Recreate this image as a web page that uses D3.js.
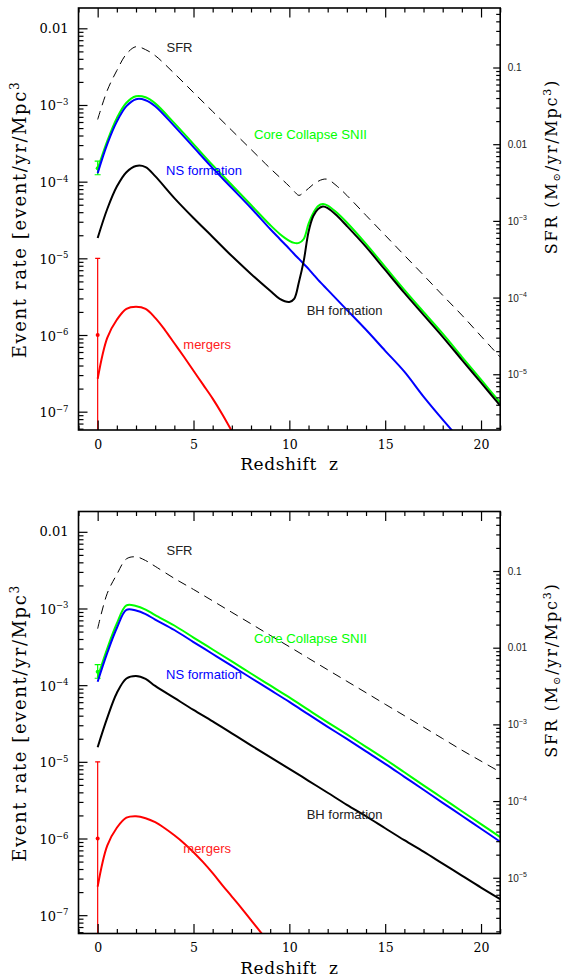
<!DOCTYPE html>
<html>
<head>
<meta charset="utf-8">
<script src="https://cdn.jsdelivr.net/npm/d3@7"></script>
<style>
  body { margin: 0; background: #fff; }
  svg { display: block; }
</style>
</head>
<body>
<svg id="chart" width="563" height="977"></svg>
<script>
// redshift grids
var zTop = [0, 0.5, 1, 1.5, 2, 2.5, 3, 4, 5, 6, 7, 8, 9, 9.5, 10, 10.25, 10.5, 10.75, 11, 11.25, 11.5, 11.75, 12, 12.5, 13, 14, 15, 16, 17, 18, 19, 20, 21];
var zBot = [0, 0.5, 1, 1.5, 2, 2.5, 3, 4, 5, 6, 7, 8, 9, 10, 11, 12, 13, 14, 15, 16, 17, 18, 19, 20, 21];

// top panel (with pop III bump)
var sfrTop = [0.0210, 0.0502, 0.0914, 0.150, 0.187, 0.171, 0.143, 0.0836, 0.0472, 0.0267, 0.0151, 8.55e-3, 4.84e-3, 3.70e-3, 2.82e-3, 2.43e-3, 2.15e-3, 2.36e-3, 2.65e-3, 3.00e-3, 3.28e-3, 3.48e-3, 3.48e-3, 2.82e-3, 2.15e-3, 1.18e-3, 6.49e-4, 3.56e-4, 1.96e-4, 1.07e-4, 5.90e-5, 3.14e-5, 1.67e-5];
var ccTop = [1.46e-4, 3.38e-4, 6.73e-4, 1.07e-3, 1.30e-3, 1.26e-3, 1.05e-3, 5.79e-4, 3.09e-4, 1.64e-4, 9.03e-5, 4.96e-5, 2.72e-5, 2.08e-5, 1.69e-5, 1.59e-5, 1.59e-5, 1.79e-5, 2.81e-5, 3.90e-5, 4.81e-5, 5.11e-5, 4.88e-5, 3.90e-5, 2.93e-5, 1.54e-5, 7.73e-6, 3.88e-6, 2.00e-6, 1.04e-6, 5.20e-7, 2.61e-7, 1.31e-7];
var nsTop = [1.29e-4, 3.09e-4, 6.07e-4, 9.65e-4, 1.19e-3, 1.155e-3, 9.65e-4, 5.30e-4, 2.82e-4, 1.50e-4, 8.26e-5, 4.53e-5, 2.41e-5, 1.79e-5, 1.33e-5, 1.14e-5, 9.83e-6, 8.45e-6, 7.28e-6, 6.17e-6, 5.24e-6, 4.51e-6, 3.88e-6, 2.87e-6, 2.13e-6, 1.17e-6, 6.22e-7, 3.32e-7, 1.57e-7, 7.87e-8, 4.07e-8, null, null];
var bhTop = [1.84e-5, 4.40e-5, 8.63e-5, 1.33e-4, 1.60e-4, 1.55e-4, 1.18e-4, 6.11e-5, 3.36e-5, 1.90e-5, 1.07e-5, 6.26e-6, 3.77e-6, 2.96e-6, 2.70e-6, 2.96e-6, 4.93e-6, 9.25e-6, 2.21e-5, 3.56e-5, 4.40e-5, 4.74e-5, 4.53e-5, 3.56e-5, 2.64e-5, 1.41e-5, 7.06e-6, 3.54e-6, 1.83e-6, 9.48e-7, 4.75e-7, 2.39e-7, 1.20e-7];
var zMergTop = [0, 0.5, 1, 1.5, 2, 2.5, 3, 3.5, 4, 4.5, 5, 5.5, 6, 6.5, 7];
var mergTop = [2.69e-7, 9.20e-7, 1.58e-6, 2.19e-6, 2.33e-6, 2.19e-6, 1.67e-6, 1.17e-6, 7.80e-7, 5.20e-7, 3.42e-7, 2.25e-7, 1.48e-7, 9.27e-8, 5.57e-8];

// bottom panel
var sfrBot = [0.0177, 0.0511, 0.0903, 0.144, 0.153, 0.137, 0.115, 0.0801, 0.0575, 0.0408, 0.0289, 0.0205, 0.0145, 0.0103, 7.28e-3, 5.15e-3, 3.65e-3, 2.59e-3, 1.83e-3, 1.30e-3, 9.20e-4, 6.52e-4, 4.61e-4, 3.32e-4, 2.39e-4];
var ccBot = [1.27e-4, 3.01e-4, 6.37e-4, 1.10e-3, 1.08e-3, 9.68e-4, 8.20e-4, 6.00e-4, 4.18e-4, 2.92e-4, 2.04e-4, 1.42e-4, 9.91e-5, 6.92e-5, 4.75e-5, 3.27e-5, 2.28e-5, 1.57e-5, 1.08e-5, 7.31e-6, 4.94e-6, 3.35e-6, 2.27e-6, 1.54e-6, 1.04e-6];
var nsBot = [1.11e-4, 2.63e-4, 5.56e-4, 9.60e-4, 9.40e-4, 8.45e-4, 7.17e-4, 5.24e-4, 3.65e-4, 2.55e-4, 1.78e-4, 1.24e-4, 8.66e-5, 6.04e-5, 4.15e-5, 2.86e-5, 1.99e-5, 1.37e-5, 9.42e-6, 6.38e-6, 4.32e-6, 2.92e-6, 1.98e-6, 1.34e-6, 9.08e-7];
var bhBot = [1.55e-5, 3.74e-5, 7.91e-5, 1.22e-4, 1.32e-4, 1.21e-4, 9.77e-5, 6.81e-5, 4.75e-5, 3.37e-5, 2.35e-5, 1.64e-5, 1.15e-5, 8.11e-6, 5.66e-6, 3.95e-6, 2.75e-6, 1.95e-6, 1.36e-6, 9.50e-7, 6.73e-7, 4.70e-7, 3.28e-7, 2.29e-7, 1.62e-7];
var zMergBot = [0, 0.5, 1, 1.5, 2, 2.5, 3, 3.5, 4, 4.5, 5, 5.5, 6, 6.5, 7, 7.5, 8, 8.5, 9];
var mergBot = [2.36e-7, 8.05e-7, 1.38e-6, 1.87e-6, 1.95e-6, 1.84e-6, 1.63e-6, 1.36e-6, 1.10e-6, 8.69e-7, 6.63e-7, 4.91e-7, 3.53e-7, 2.47e-7, 1.75e-7, 1.24e-7, 8.63e-8, 6.03e-8, 4.14e-8];

// observed points at z=0: value, low, high (null low = off the axis)
var ccObs = [1.5e-4, 1.23e-4, 1.85e-4];
var mergObs = [1e-6, null, 1e-5];

// tick values
var rateTicks = [1e-2, 1e-3, 1e-4, 1e-5, 1e-6, 1e-7];
var sfrTicks = [0.1, 0.01, 1e-3, 1e-4, 1e-5];
var zTicks = [0, 5, 10, 15, 20];

var svg = d3.select("#chart");
var left = 78.5, right = 500.2, ph = 422;
var serif = "'DejaVu Serif', serif";
var sans = "'Liberation Sans', Arial, sans-serif";

var x = d3.scaleLinear().domain([-1, 21]).range([left, right]);

function minorLog(lo, hi) {
  var out = [];
  for (var e = -9; e <= 0; e++) {
    for (var k = 2; k <= 9; k++) {
      var v = k * Math.pow(10, e);
      if (v >= lo && v <= hi) out.push(v);
    }
  }
  return out;
}

// "0.01" stays plain, smaller powers become 10 with a superscript
function powLabel(sel, d, keepFrom, shift, sup, small) {
  var t = d3.select(sel);
  var e = Math.round(Math.log10(d));
  if (e >= keepFrom) { t.text(d); return; }
  t.text(null).attr("dy", shift);
  t.append("tspan").text("10");
  t.append("tspan").attr("dy", -sup).attr("font-size", small).text("\u2212" + (-e));
}

function drawPanel(top, id, z, sfr, cc, ns, bh, zm, merg) {
  var bottom = top + ph;
  var y = d3.scaleLog().domain([Math.pow(10, -7.239), Math.pow(10, -1.735)]).range([bottom, top]);
  var ySfr = d3.scaleLog().domain([Math.pow(10, -5.727), Math.pow(10, -0.224)]).range([bottom, top]);

  var g = svg.append("g");
  g.append("clipPath").attr("id", "clip" + id)
    .append("rect").attr("x", left).attr("y", top).attr("width", right - left).attr("height", ph);
  var plot = g.append("g").attr("clip-path", "url(#clip" + id + ")");

  var line = function (scale) {
    return d3.line()
      .defined(function (d) { return d[1] != null; })
      .x(function (d) { return x(d[0]); })
      .y(function (d) { return scale(d[1]); })
      .curve(d3.curveCatmullRom.alpha(0.5));
  };

  // green observed point
  var x0 = x(0);
  plot.append("line").attr("x1", x0).attr("x2", x0).attr("y1", y(ccObs[1])).attr("y2", y(ccObs[2]))
    .attr("stroke", "#00ff00").attr("stroke-width", 1.2);
  [ccObs[1], ccObs[2]].forEach(function (v) {
    plot.append("line").attr("x1", x0 - 3).attr("x2", x0 + 3).attr("y1", y(v)).attr("y2", y(v))
      .attr("stroke", "#00ff00").attr("stroke-width", 1.2);
  });
  plot.append("circle").attr("cx", x0).attr("cy", y(ccObs[0])).attr("r", 2).attr("fill", "#00ff00");

  plot.append("path").datum(d3.zip(z, cc)).attr("d", line(y))
    .attr("fill", "none").attr("stroke", "#00ff00").attr("stroke-width", 2);
  plot.append("path").datum(d3.zip(z, ns)).attr("d", line(y))
    .attr("fill", "none").attr("stroke", "#0000ff").attr("stroke-width", 2);
  plot.append("path").datum(d3.zip(z, bh)).attr("d", line(y))
    .attr("fill", "none").attr("stroke", "#000").attr("stroke-width", 2);
  plot.append("path").datum(d3.zip(zm, merg)).attr("d", line(y))
    .attr("fill", "none").attr("stroke", "#ff0000").attr("stroke-width", 2);

  // red observed point
  var lowY = mergObs[1] == null ? bottom : y(mergObs[1]);
  plot.append("line").attr("x1", x0).attr("x2", x0).attr("y1", lowY).attr("y2", y(mergObs[2]))
    .attr("stroke", "#ff0000").attr("stroke-width", 1.2);
  plot.append("line").attr("x1", x0 - 2.5).attr("x2", x0 + 2.5).attr("y1", y(mergObs[2])).attr("y2", y(mergObs[2]))
    .attr("stroke", "#ff0000").attr("stroke-width", 1.2);
  plot.append("circle").attr("cx", x0).attr("cy", y(mergObs[0])).attr("r", 2).attr("fill", "#ff0000");

  // SFR dashed (right axis)
  plot.append("path").datum(d3.zip(z, sfr)).attr("d", line(ySfr))
    .attr("fill", "none").attr("stroke", "#000").attr("stroke-width", 1).attr("stroke-dasharray", "9,6");

  // axes: ticks point inward
  var yd = y.domain(), sd = ySfr.domain();
  var axes = g.append("g");
  function clean(sel) { sel.select(".domain").remove(); sel.selectAll("line").attr("stroke-width", 1.2); }

  axes.append("g").attr("transform", "translate(" + left + ",0)")
    .call(d3.axisLeft(y).tickValues(minorLog(yd[0], yd[1])).tickSizeInner(-5).tickSizeOuter(0).tickFormat(""))
    .call(clean);
  var la = axes.append("g").attr("transform", "translate(" + left + ",0)")
    .call(d3.axisLeft(y).tickValues(rateTicks).tickSizeInner(-9).tickSizeOuter(0).tickPadding(10))
    .call(clean);
  la.attr("font-family", serif).attr("font-size", 13);
  la.selectAll("text").attr("fill", "#000").each(function (d) { powLabel(this, d, -2, 5, 5.5, 8.5); });

  axes.append("g").attr("transform", "translate(" + right + ",0)")
    .call(d3.axisRight(ySfr).tickValues(minorLog(sd[0], sd[1])).tickSizeInner(-4).tickSizeOuter(0).tickFormat(""))
    .call(clean);
  var ra = axes.append("g").attr("transform", "translate(" + right + ",0)")
    .call(d3.axisRight(ySfr).tickValues(sfrTicks).tickSizeInner(-7).tickSizeOuter(0).tickPadding(7.5))
    .call(clean);
  ra.attr("font-family", sans).attr("font-size", 10);
  ra.selectAll("text").attr("fill", "#222").each(function (d) { powLabel(this, d, -2, 3.5, 4.5, 7); });

  var zMinor = d3.range(-1, 22).filter(function (v) { return v % 5 !== 0; });
  [[d3.axisBottom, bottom], [d3.axisTop, top]].forEach(function (p) {
    axes.append("g").attr("transform", "translate(0," + p[1] + ")")
      .call(p[0](x).tickValues(zMinor).tickSizeInner(-4.5).tickSizeOuter(0).tickFormat(""))
      .call(clean);
  });
  axes.append("g").attr("transform", "translate(0," + top + ")")
    .call(d3.axisTop(x).tickValues(zTicks).tickSizeInner(-9.5).tickSizeOuter(0).tickFormat(""))
    .call(clean);
  var ba = axes.append("g").attr("transform", "translate(0," + bottom + ")")
    .call(d3.axisBottom(x).tickValues(zTicks).tickSizeInner(-9.5).tickSizeOuter(0).tickPadding(9.8))
    .call(clean);
  ba.attr("font-family", serif).attr("font-size", 12.5);
  ba.selectAll("text").attr("fill", "#000");

  g.append("rect").attr("x", left).attr("y", top).attr("width", right - left).attr("height", ph)
    .attr("fill", "none").attr("stroke", "#000").attr("stroke-width", 1.6);

  // axis titles
  var lt = g.append("text").attr("transform", "translate(26," + (top + 211.5) + ") rotate(-90)")
    .attr("text-anchor", "middle").attr("font-family", serif).attr("font-size", 18)
    .attr("letter-spacing", "1.6px").attr("fill", "#000");
  lt.append("tspan").text("Event rate [event/yr/Mpc");
  lt.append("tspan").attr("dy", -7).attr("font-size", 12).text("3");

  var rt = g.append("text").attr("transform", "translate(557," + (top + 158.5) + ") rotate(-90)")
    .attr("text-anchor", "middle").attr("font-family", serif).attr("font-size", 16)
    .attr("letter-spacing", "1.8px").attr("fill", "#000");
  rt.append("tspan").text("SFR (M");
  rt.append("tspan").attr("dy", 3).attr("font-size", 10).text("\u2299");
  rt.append("tspan").attr("dy", -3).text("/yr/Mpc");
  rt.append("tspan").attr("dy", -6).attr("font-size", 11).text("3");
  rt.append("tspan").attr("dy", 6).text(")");

  g.append("text").attr("x", x(10)).attr("y", bottom + 40).attr("text-anchor", "middle")
    .attr("font-family", serif).attr("font-size", 17).attr("letter-spacing", "0.6px")
    .style("white-space", "pre").attr("fill", "#000").text("Redshift  z");

  // curve labels
  var labels = [
    ["SFR", 166.5, 43.7, "#222", null],
    ["Core Collapse SNII", 254, 131, "#00ff00", 113],
    ["NS formation", 166, 167, "#0000ff", null],
    ["BH formation", 306.7, 307, "#222", null],
    ["mergers", 183.3, 341, "#ff2020", null]
  ];
  labels.forEach(function (l) {
    var t = g.append("text").attr("x", l[1]).attr("y", top + l[2]).attr("font-family", sans)
      .attr("font-size", 13).attr("fill", l[3]).text(l[0]);
    if (l[4]) t.attr("textLength", l[4]).attr("lengthAdjust", "spacingAndGlyphs");
  });
}

drawPanel(8, "a", zTop, sfrTop, ccTop, nsTop, bhTop, zMergTop, mergTop);
drawPanel(511.5, "b", zBot, sfrBot, ccBot, nsBot, bhBot, zMergBot, mergBot);
</script>
</body>
</html>
